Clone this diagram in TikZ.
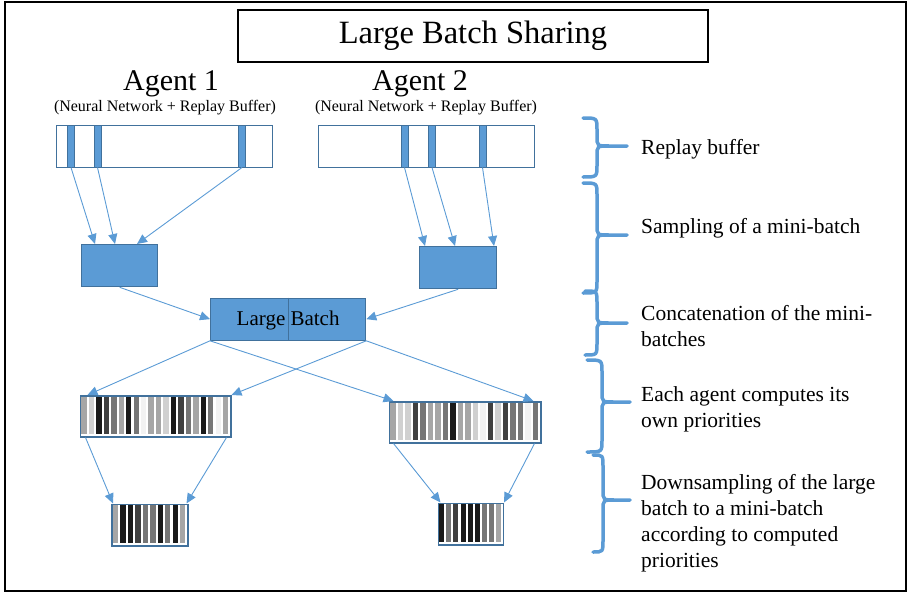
\documentclass[tikz,border=0pt]{standalone}
\usepackage{fontspec}
\setmainfont{Liberation Serif}
\usetikzlibrary{arrows.meta,calc}
\definecolor{bfill}{HTML}{5B9BD5}
\definecolor{bdraw}{HTML}{41719C}
\definecolor{aline}{HTML}{5B9BD5}
\definecolor{colL}{HTML}{A6A6A6}
\definecolor{colW}{HTML}{D0D0D0}
\definecolor{colK}{HTML}{1A1A1A}
\definecolor{colD}{HTML}{404040}
\definecolor{colG}{HTML}{767676}
\definecolor{colX}{HTML}{F2F2F2}
\newcommand{\stripebar}[4]{%
  \foreach \c [count=\i from 0] in {#4} {
    \fill[col\c] ([shift={(1.8+\i*#2,1.6)}]#1.north west) rectangle ++(#2-2.1,#3);
  }}
\newcommand{\mybrace}[6]{%
  \draw[brace] (#1,#4) .. controls (#2,#4) .. (#2,#4+12) -- (#2,#5-10) .. controls (#2,#5) .. (#2+12,#5) -- (#3,#5)
    (#2+12,#5) .. controls (#2,#5) .. (#2,#5+10) -- (#2,#6-12) .. controls (#2,#6) .. (#1,#6);}
\tikzset{
  box/.style={draw=bdraw, fill=bfill, line width=1.3pt, inner sep=0, anchor=north west},
  buf/.style={draw=bdraw, fill=white, line width=1.3pt, inner sep=0, anchor=north west, minimum height=41.5pt},
  stripbox/.style={draw=bdraw, fill=bfill, line width=1pt, inner sep=0, anchor=north west, minimum width=7pt, minimum height=41.5pt},
  bar/.style={draw=bdraw, fill=white, line width=1.5pt, inner sep=0, anchor=north west},
  conn/.style={draw=aline, line width=0.9pt, -{Triangle[length=10pt,width=9pt]}},
  brace/.style={draw=bfill, line width=3.5pt, line cap=round},
  lbl/.style={anchor=north west, align=left, inner sep=0, font=\fontsize{21.5}{26}\selectfont},
}
\begin{document}
\begin{tikzpicture}[x=1pt,y=-1pt]
\useasboundingbox (0,0) rectangle (910,594);
\draw[line width=1.2pt] (5,2) rectangle (906,591);
% title
\node[draw, line width=1.3pt, minimum width=470pt, minimum height=52pt, inner sep=0, font=\fontsize{32.5}{38}\selectfont] (title) at (473,36) {Large Batch Sharing};
\node[anchor=base, inner sep=0, font=\fontsize{30}{34}\selectfont] (ag1) at (171,91) {Agent 1};
\node[anchor=base, inner sep=0, font=\fontsize{30}{34}\selectfont] (ag2) at (420,91) {Agent 2};
\node[anchor=base, inner sep=0, font=\fontsize{16}{19}\selectfont] (sub1) at (165,111) {(Neural Network + Replay Buffer)};
\node[anchor=base, inner sep=0, font=\fontsize{16}{19}\selectfont] (sub2) at (426,111) {(Neural Network + Replay Buffer)};
% replay buffers
\node[buf, minimum width=216pt] (buf1) at (56,125) {};
\node[stripbox] (s11) at (67,125) {};
\node[stripbox] (s12) at (93.5,125) {};
\node[stripbox] (s13) at (238,125) {};
\node[buf, minimum width=216pt] (buf2) at (318,125) {};
\node[stripbox] (s21) at (400.5,125) {};
\node[stripbox] (s22) at (428,125) {};
\node[stripbox] (s23) at (478.5,125) {};
% mini-batches
\node[box, minimum width=76pt, minimum height=42pt] (mb1) at (81,244) {};
\node[box, minimum width=77pt, minimum height=42pt] (mb2) at (419,246) {};
% large batch
\node[box, minimum width=155pt, minimum height=42pt] (lb) at (210,297.5) {};
\draw[bdraw, line width=1.3pt] (lb.north) -- (lb.south);
\node[inner sep=0, font=\fontsize{21}{26}\selectfont] (lbt) at ([yshift=-1.5pt]lb.center) {Large Batch};
% priority bars
\node[bar, minimum width=150.5pt, minimum height=41pt] (b1) at (79.5,395) {};
\stripebar{b1}{7.46}{37.8}{L,W,K,D,G,L,K,G,X,L,L,W,K,D,G,L,K,G,X,L}
\node[bar, minimum width=151.5pt, minimum height=41pt] (b2) at (388.5,401) {};
\stripebar{b2}{7.51}{37.8}{L,W,W,D,G,L,L,G,K,L,L,W,X,D,W,D,G,G,X,G}
\node[bar, minimum width=76pt, minimum height=41.5pt] (m1) at (111,503.5) {};
\stripebar{m1}{7.47}{38.3}{L,K,K,D,G,G,K,G,K,L}
\node[bar, minimum width=65pt, minimum height=41.5pt] (m2) at (437.5,502.5) {};
\stripebar{m2}{7.08}{38.3}{K,G,D,K,K,K,G,G,L}
% connectors
\draw[conn] (s11.south) -- ([xshift=14pt]mb1.north west);
\draw[conn] (s12.south) -- ([xshift=34pt]mb1.north west);
\draw[conn] (s13.south) -- ([xshift=56pt]mb1.north west);
\draw[conn] (s21.south) -- ([xshift=6pt]mb2.north west);
\draw[conn] (s22.south) -- ([xshift=36pt]mb2.north west);
\draw[conn] (s23.south) -- ([xshift=75pt]mb2.north west);
\draw[conn] (mb1.south) -- (lb.west);
\draw[conn] (mb2.south) -- (lb.east);
\draw[conn] (lb.south west) -- ([xshift=8pt]b1.north west);
\draw[conn] (lb.south west) -- ([xshift=5pt]b2.north west);
\draw[conn] (lb.south east) -- (b1.north east);
\draw[conn] (lb.south east) -- ([xshift=-8pt]b2.north east);
\draw[conn] ([xshift=6pt]b1.south west) -- ([xshift=2pt]m1.north west);
\draw[conn] ([xshift=-5pt]b1.south east) -- ([xshift=-2pt]m1.north east);
\draw[conn] ([xshift=5pt]b2.south west) -- ([xshift=3pt]m2.north west);
\draw[conn] ([xshift=-7pt]b2.south east) -- (m2.north east);
% braces
\mybrace{583}{597}{627}{118}{146}{177}
\mybrace{583}{597}{627}{183}{235}{293}
\mybrace{585}{597}{627}{291}{323}{355}
\mybrace{587}{602}{630}{360}{402}{452}
\mybrace{593}{603}{630}{455}{500}{552}
% labels
\node[lbl] (t1) at (641,135.8) {\strut Replay buffer};
\node[lbl] (t2) at (641,214.8) {\strut Sampling of a mini-batch};
\node[lbl] (t3) at (641,301.8) {\strut Concatenation of the mini-\\batches};
\node[lbl] (t4) at (641,382.8) {\strut Each agent computes its\\own priorities};
\node[lbl] (t5) at (641,470.8) {\strut Downsampling of the large\\batch to a mini-batch\\according to computed\\priorities};
\end{tikzpicture}
\end{document}
